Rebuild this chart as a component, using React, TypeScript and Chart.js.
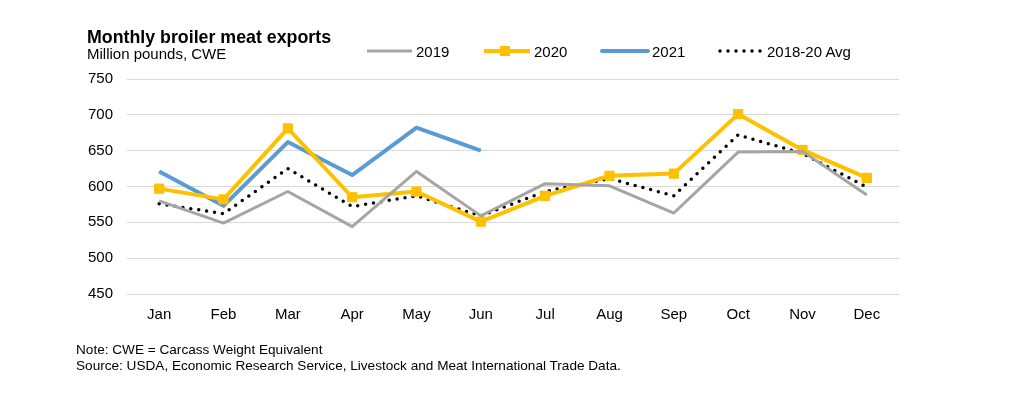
import React, { useEffect, useRef } from "react";
import { Chart, registerables } from "chart.js";

Chart.register(...registerables);

const months = ["Jan", "Feb", "Mar", "Apr", "May", "Jun", "Jul", "Aug", "Sep", "Oct", "Nov", "Dec"];
const exports2019 = [580, 549, 593, 544, 621, 559, 604, 601, 563, 648, 649, 588];
const exports2020 = [597, 582, 681, 585, 593, 551, 587, 615, 618, 701, 651, 612];
const exports2021 = [621, 573, 662, 616, 682, 650, null, null, null, null, null, null];
const avg2018to20 = [576, 562, 625, 572, 587, 559, 593, 611, 587, 672, 646, 599];
const yTicks = { min: 450, max: 750, step: 50 };

const FONT = "'Liberation Sans', Arial, sans-serif";
const GRAY = "#A5A5A5";
const YELLOW = "#FFC000";
const BLUE = "#5B9BD5";

export default function App() {
  const ref = useRef<HTMLCanvasElement | null>(null);

  useEffect(() => {
    document.body.style.margin = "0";
    const canvas = ref.current;
    if (!canvas) return;
    const chart = new Chart(canvas, {
      type: "line",
      data: {
        labels: months,
        datasets: [
          {
            label: "2019",
            data: exports2019,
            borderColor: GRAY,
            backgroundColor: GRAY,
            borderWidth: 3,
            pointRadius: 0,
            tension: 0,
            borderJoinStyle: "round",
          },
          {
            label: "2020",
            data: exports2020,
            borderColor: YELLOW,
            backgroundColor: YELLOW,
            borderWidth: 4,
            pointStyle: "rect",
            pointRadius: 6.5,
            pointBorderWidth: 1,
            pointBackgroundColor: YELLOW,
            pointBorderColor: YELLOW,
            tension: 0,
            borderJoinStyle: "round",
          },
          {
            label: "2021",
            data: exports2021,
            borderColor: BLUE,
            backgroundColor: BLUE,
            borderWidth: 4,
            pointRadius: 0,
            tension: 0,
            borderJoinStyle: "round",
            spanGaps: false,
          },
          {
            label: "2018-20 Avg",
            data: avg2018to20,
            borderColor: "#000000",
            backgroundColor: "#000000",
            borderWidth: 3.5,
            borderDash: [0, 8],
            borderCapStyle: "round",
            pointRadius: 0,
            tension: 0,
          },
        ],
      },
      options: {
        animation: false,
        responsive: false,
        devicePixelRatio: 1,
        layout: { padding: { left: 0, right: 116, top: 79, bottom: 0 } },
        plugins: {
          legend: { display: false },
          title: { display: false },
          tooltip: { enabled: false },
        },
        scales: {
          x: {
            type: "category",
            offset: true,
            grid: { display: false, drawTicks: false, offset: true },
            border: { display: false },
            ticks: {
              color: "#000",
              font: { family: FONT, size: 15 },
              padding: 12,
              maxRotation: 0,
              autoSkip: false,
            },
            afterFit: (s: any) => {
              s.height = 101;
            },
          },
          y: {
            min: yTicks.min,
            max: yTicks.max,
            grid: { color: "#D9D9D9", lineWidth: 1, drawTicks: false },
            border: { display: false },
            ticks: {
              stepSize: yTicks.step,
              color: "#000",
              font: { family: FONT, size: 15 },
              padding: 14,
            },
            afterFit: (s: any) => {
              s.width = 127;
            },
          },
        },
      },
    });
    return () => chart.destroy();
  }, []);

  const dots = [0, 8, 16, 24, 32, 40];

  return (
    <div style={{ position: "relative", width: 1015, height: 395, background: "#fff" }}>
      <canvas
        ref={ref}
        width={1015}
        height={395}
        style={{ position: "absolute", left: 0, top: 0, width: 1015, height: 395 }}
      />
      <svg
        width={1015}
        height={395}
        style={{ position: "absolute", left: 0, top: 0, pointerEvents: "none" }}
      >
        <text x={87} y={43} fontFamily={FONT} fontSize={17.8} fontWeight="bold" fill="#000">
          Monthly broiler meat exports
        </text>
        <text x={87} y={59} fontFamily={FONT} fontSize={15} fill="#000">
          Million pounds, CWE
        </text>

        <line x1={367} y1={51} x2={412} y2={51} stroke={GRAY} strokeWidth={3} />
        <text x={416} y={57} fontFamily={FONT} fontSize={15} fill="#000">2019</text>

        <line x1={484} y1={51} x2={530} y2={51} stroke={YELLOW} strokeWidth={4} />
        <rect x={500} y={46} width={10} height={10} fill={YELLOW} />
        <text x={534} y={57} fontFamily={FONT} fontSize={15} fill="#000">2020</text>

        <line x1={602} y1={51} x2={648} y2={51} stroke={BLUE} strokeWidth={4} strokeLinecap="round" />
        <text x={652} y={57} fontFamily={FONT} fontSize={15} fill="#000">2021</text>

        {dots.map((d) => (
          <circle key={d} cx={720 + d} cy={51} r={1.75} fill="#000" />
        ))}
        <text x={767} y={57} fontFamily={FONT} fontSize={15} fill="#000">2018-20 Avg</text>

        <text x={76} y={354} fontFamily={FONT} fontSize={13.6} fill="#000">
          Note: CWE = Carcass Weight Equivalent
        </text>
        <text x={76} y={370} fontFamily={FONT} fontSize={13.6} fill="#000">
          Source: USDA, Economic Research Service, Livestock and Meat International Trade Data.
        </text>
      </svg>
    </div>
  );
}
